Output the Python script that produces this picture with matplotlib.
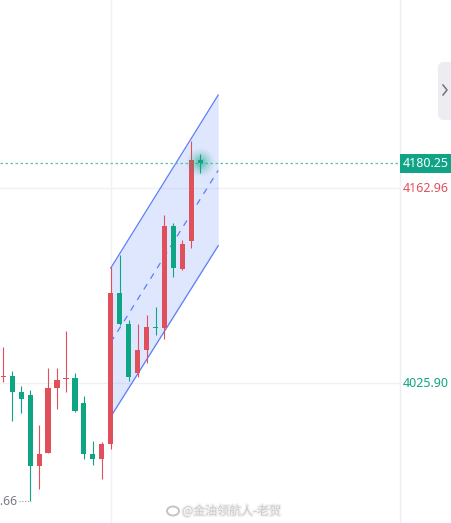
import matplotlib
matplotlib.use('Agg')
import matplotlib.pyplot as plt
import numpy as np
from matplotlib.patches import FancyBboxPatch, Rectangle, Ellipse
import matplotlib.patheffects as pe
import matplotlib.transforms as mtransforms

plt.rcParams['font.family'] = ['Noto Sans', 'Noto Sans CJK SC', 'DejaVu Sans']

# ---- data ----
opens  = [4030.0, 4030.8, 4019.5, 4017.4, 3967.7, 3976.9, 4022.5, 4029.0, 4029.4, 4011.8, 3975.9, 3972.6,
          3983.2, 4089.3, 4067.3, 4033.1, 4049.3, 4065.2, 4064.7, 4136.2, 4106.0, 4125.9, 4182.6]
highs  = [4051.4, 4034.5, 4023.7, 4020.9, 3996.3, 4036.2, 4036.4, 4062.4, 4033.1, 4016.7, 3985.1, 3984.4,
          4107.2, 4115.8, 4070.1, 4067.3, 4073.7, 4079.3, 4143.7, 4138.1, 4126.4, 4196.0, 4186.8]
lows   = [4026.8, 3999.4, 4004.6, 3942.66, 3951.1, 3976.5, 4007.6, 4019.7, 4005.7, 3972.6, 3968.2, 3958.4,
          3979.7, 4067.0, 4027.5, 4029.9, 4040.1, 4059.8, 4057.0, 4100.2, 4105.3, 4121.0, 4173.7]
closes = [4030.6, 4019.7, 4014.8, 3967.7, 3975.9, 4022.3, 4028.0, 4029.4, 4006.4, 3976.1, 3972.6, 3983.0,
          4089.3, 4067.3, 4030.3, 4049.3, 4065.2, 4064.8, 4136.2, 4106.5, 4123.6, 4182.6, 4180.25]

channel_x = [12, 24]
channel_upper = [4106.7, 4228.3]
channel_lower = [4002.2, 4122.4]

last_price = 4180.25
grid_prices = [4162.96, 4025.90]
grid_labels = ['4162.96', '4025.90']
low_label = '3942.66'
watermark = '@金油领航人-老贺'

# ---- figure ----
W, H = 452, 523
YMIN, YMAX = 3927.5, 4295.1
fig = plt.figure(figsize=(W / 100, H / 100), dpi=100)
ax = fig.add_axes([0, 0, 400 / W, 1])
ax.set_xlim(-0.368, 44.30)
ax.set_ylim(YMIN, YMAX)
ax.axis('off')

RED = '#e0505b'
GREEN = '#0ea584'

# grid
ax.axvline(12, color='#f1f1f4', lw=1, zorder=0)
for gp in grid_prices:
    ax.axhline(gp, color='#f1f1f4', lw=1, zorder=0)

# channel
cx = np.array(channel_x)
up = np.array(channel_upper)
lo = np.array(channel_lower)
mid = (up + lo) / 2
ax.fill_between(cx, lo, up, color='#2962ff', alpha=0.15, lw=0, zorder=1)
ax.plot(cx, up, color='#5b7df8', lw=0.9, zorder=2)
ax.plot(cx, lo, color='#5b7df8', lw=0.9, zorder=2)
ax.plot(cx, mid, color='#5b7df8', lw=0.9, ls=(0, (5, 5)), zorder=2)

# last price dotted line
ax.axhline(last_price, color='#5cc2ab', lw=0.9, ls=(0, (2, 2)), zorder=2)

# candles
x = np.arange(len(opens))
o = np.array(opens); c = np.array(closes); h = np.array(highs); l = np.array(lows)
cols = [RED if cc >= oo else GREEN for oo, cc in zip(o, c)]
ax.vlines(x, l, h, colors=cols, lw=0.8, zorder=3)
bottoms = np.minimum(o, c)
heights = np.maximum(np.abs(c - o), 0.75)
ax.bar(x, heights, bottom=bottoms, width=0.58, color=cols, lw=0, zorder=4)

# glow on last candle
for s, a in [(420, 0.05), (300, 0.07), (200, 0.1), (110, 0.14), (50, 0.2)]:
    ax.scatter([x[-1]], [last_price + 1.2], s=s, color=GREEN, alpha=a, lw=0, zorder=5)

# low label
ax.text(1.62, lows[3], low_label, ha='right', va='center', fontsize=8.8, color='#787b86', zorder=6)
ax.plot([1.78, 2.85], [lows[3], lows[3]], color='#9598a1', lw=0.8, ls=(0, (1, 1.5)), zorder=6)

# right border
fig.add_artist(plt.Line2D([400 / W, 400 / W], [0, 1], color='#eeeef2', lw=1))


def fy(price):
    return (price - YMIN) / (YMAX - YMIN)


# right scale labels
fig.text(403 / W, fy(grid_prices[0]), grid_labels[0], ha='left', va='center',
         fontsize=9, color=RED)
fig.text(403 / W, fy(grid_prices[1]), grid_labels[1], ha='left', va='center',
         fontsize=9, color=GREEN)

# last price box
bx0, bx1, by0, by1 = 400, 452, 154.3, 172.7
fig.add_artist(Rectangle((bx0 / W, 1 - by1 / H), (bx1 - bx0) / W, (by1 - by0) / H,
                         transform=fig.transFigure, facecolor='#0fa486', edgecolor='none',
                         zorder=5))
fig.text(426 / W, fy(last_price), f'{last_price:.2f}', ha='center', va='center',
         fontsize=9, color='white', zorder=6)

# side tab
fig.add_artist(FancyBboxPatch((438 / W, 1 - 120 / H), 30 / W, 58 / H,
                              boxstyle='round,pad=0,rounding_size=0.012',
                              transform=fig.transFigure, facecolor='#ededf1', edgecolor='none'))
fig.add_artist(plt.Line2D([443 / W, 447 / W, 443 / W], [1 - 85 / H, 1 - 90 / H, 1 - 95 / H],
                          color='#707380', lw=1.1, zorder=6))

# watermark
fig.add_artist(Ellipse((173 / W, 1 - 511 / H), 12 / W, 9 / H, transform=fig.transFigure,
                       facecolor='none', edgecolor='#c4c4c4', lw=1.4))
fig.text(182 / W, 1 - 511 / H, watermark, ha='left', va='center', fontsize=8.6,
         family=['Noto Sans CJK SC', 'DejaVu Sans'], color='#c9c9c9',
         path_effects=[pe.withStroke(linewidth=2.2, foreground='#f2f2f2')])

fig.savefig('out.png', dpi=100)
